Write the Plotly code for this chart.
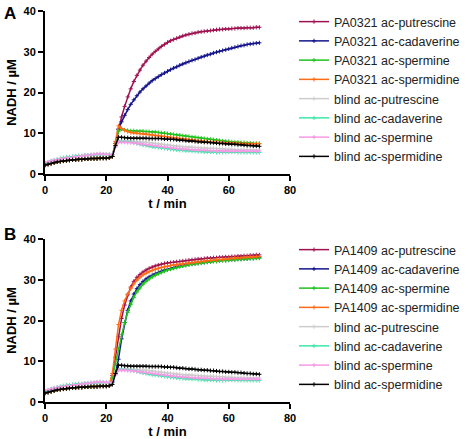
import plotly.graph_objects as go
from plotly.subplots import make_subplots

# time points (min)
t = list(range(0, 71))

# ---- baseline segments, t = 0..21 ----
base_low = [2.2, 2.4, 2.6, 2.8, 3.0, 3.1, 3.2, 3.3, 3.4, 3.5, 3.5, 3.6, 3.6, 3.7, 3.7, 3.8, 3.8, 3.8, 3.9, 3.9, 3.9, 4.0]
base_cyan = [2.6, 2.9, 3.2, 3.4, 3.6, 3.8, 4.0, 4.1, 4.2, 4.3, 4.4, 4.5, 4.5, 4.6, 4.6, 4.7, 4.7, 4.8, 4.8, 4.8, 4.8, 4.8]
base_pink = [2.8, 3.0, 3.2, 3.4, 3.5, 3.7, 3.8, 3.9, 4.0, 4.1, 4.2, 4.3, 4.4, 4.5, 4.6, 4.7, 4.8, 4.9, 5.0, 4.9, 4.8, 4.8]
base_gray = [2.5, 2.8, 3.1, 3.3, 3.5, 3.7, 3.9, 4.0, 4.1, 4.2, 4.3, 4.4, 4.4, 4.5, 4.5, 4.6, 4.6, 4.7, 4.7, 4.7, 4.7, 4.7]

# ---- after substrate addition, t = 22..70 ----
# Panel A: PA0321
a_put = [4.3, 7.5, 11.0, 14.0, 16.6, 18.9, 20.9, 22.7, 24.2, 25.5, 26.7, 27.7, 28.6, 29.4, 30.1, 30.7, 31.3, 31.8, 32.3, 32.7, 33.0, 33.3, 33.6, 33.9, 34.1, 34.3, 34.5, 34.6, 34.8, 34.9, 35.0, 35.1, 35.2, 35.3, 35.4, 35.5, 35.5, 35.6, 35.6, 35.7, 35.7, 35.8, 35.8, 35.8, 35.9, 35.9, 35.9, 36.0, 36.0]
a_cad = [4.3, 7.5, 11.0, 12.8, 14.4, 15.8, 17.1, 18.2, 19.2, 20.1, 20.9, 21.6, 22.3, 22.9, 23.4, 23.9, 24.4, 24.8, 25.2, 25.6, 26.0, 26.3, 26.7, 27.0, 27.3, 27.6, 27.9, 28.1, 28.4, 28.7, 28.9, 29.2, 29.4, 29.7, 29.9, 30.1, 30.3, 30.5, 30.7, 30.9, 31.1, 31.3, 31.5, 31.6, 31.8, 31.9, 32.0, 32.1, 32.2]
a_spm = [4.3, 7.5, 10.5, 11.0, 10.8, 10.7, 10.6, 10.6, 10.5, 10.5, 10.5, 10.4, 10.4, 10.3, 10.3, 10.2, 10.1, 10.0, 9.9, 9.8, 9.7, 9.6, 9.5, 9.4, 9.3, 9.2, 9.1, 9.0, 8.9, 8.8, 8.7, 8.6, 8.5, 8.4, 8.3, 8.2, 8.1, 8.0, 8.0, 7.9, 7.8, 7.8, 7.7, 7.7, 7.6, 7.6, 7.5, 7.5, 7.5]
a_spd = [4.3, 8.0, 11.8, 11.2, 10.7, 10.4, 10.2, 10.1, 10.0, 9.9, 9.9, 9.8, 9.7, 9.6, 9.5, 9.4, 9.3, 9.2, 9.1, 9.0, 8.9, 8.8, 8.7, 8.6, 8.5, 8.4, 8.3, 8.2, 8.1, 8.1, 8.0, 7.9, 7.9, 7.8, 7.8, 7.7, 7.7, 7.6, 7.6, 7.6, 7.5, 7.5, 7.5, 7.4, 7.4, 7.4, 7.4, 7.4, 7.4]

# Panel B: PA1409
b_put = [6.5, 11.0, 16.0, 20.5, 23.8, 26.3, 28.2, 29.6, 30.6, 31.3, 31.9, 32.4, 32.8, 33.1, 33.4, 33.6, 33.8, 34.0, 34.1, 34.2, 34.3, 34.4, 34.5, 34.6, 34.7, 34.8, 34.9, 35.0, 35.1, 35.1, 35.2, 35.3, 35.3, 35.4, 35.4, 35.5, 35.5, 35.6, 35.6, 35.7, 35.7, 35.8, 35.8, 35.9, 35.9, 36.0, 36.0, 36.1, 36.1]
b_cad = [5.0, 7.0, 10.5, 15.5, 19.5, 22.5, 24.8, 26.5, 27.8, 28.8, 29.6, 30.2, 30.7, 31.1, 31.5, 31.8, 32.1, 32.4, 32.6, 32.8, 33.0, 33.2, 33.4, 33.5, 33.7, 33.8, 33.9, 34.0, 34.1, 34.2, 34.3, 34.4, 34.5, 34.6, 34.6, 34.7, 34.8, 34.8, 34.9, 35.0, 35.0, 35.1, 35.1, 35.2, 35.2, 35.3, 35.3, 35.4, 35.4]
b_spm = [6.0, 9.5, 13.0, 16.5, 19.5, 22.0, 24.0, 25.7, 27.0, 28.0, 28.9, 29.6, 30.2, 30.7, 31.1, 31.5, 31.8, 32.1, 32.4, 32.6, 32.8, 33.0, 33.2, 33.4, 33.5, 33.7, 33.8, 33.9, 34.0, 34.1, 34.2, 34.3, 34.4, 34.5, 34.5, 34.6, 34.7, 34.7, 34.8, 34.9, 34.9, 35.0, 35.0, 35.1, 35.1, 35.2, 35.2, 35.3, 35.3]
b_spd = [7.0, 13.0, 19.0, 22.5, 24.8, 26.5, 27.9, 29.0, 29.9, 30.6, 31.2, 31.6, 32.0, 32.3, 32.6, 32.8, 33.0, 33.2, 33.3, 33.5, 33.6, 33.7, 33.8, 33.9, 34.0, 34.1, 34.2, 34.3, 34.4, 34.5, 34.6, 34.7, 34.8, 34.8, 34.9, 35.0, 35.0, 35.1, 35.2, 35.2, 35.3, 35.4, 35.4, 35.5, 35.5, 35.6, 35.6, 35.7, 35.7]

# blinds (same controls in both panels)
bl_put = [4.7, 6.8, 8.2, 8.2, 8.1, 8.1, 8.0, 8.0, 7.9, 7.9, 7.8, 7.8, 7.7, 7.6, 7.5, 7.4, 7.3, 7.2, 7.1, 7.0, 6.9, 6.9, 6.8, 6.7, 6.7, 6.6, 6.6, 6.5, 6.5, 6.4, 6.4, 6.3, 6.3, 6.3, 6.2, 6.2, 6.2, 6.1, 6.1, 6.1, 6.0, 6.0, 6.0, 6.0, 5.9, 5.9, 5.9, 5.9, 5.9]
bl_cad = [4.8, 6.8, 8.0, 8.0, 8.0, 7.9, 7.8, 7.7, 7.5, 7.3, 7.1, 7.0, 6.8, 6.7, 6.6, 6.5, 6.4, 6.3, 6.2, 6.1, 6.0, 5.9, 5.8, 5.8, 5.7, 5.7, 5.6, 5.6, 5.5, 5.5, 5.4, 5.4, 5.4, 5.4, 5.3, 5.3, 5.3, 5.3, 5.4, 5.4, 5.4, 5.3, 5.3, 5.3, 5.3, 5.3, 5.3, 5.3, 5.3]
bl_spm = [4.8, 6.6, 7.8, 7.8, 7.8, 7.7, 7.7, 7.6, 7.5, 7.4, 7.3, 7.2, 7.1, 7.0, 6.9, 6.8, 6.7, 6.6, 6.5, 6.4, 6.3, 6.3, 6.2, 6.1, 6.1, 6.0, 6.0, 5.9, 5.9, 5.8, 5.8, 5.8, 5.7, 5.7, 5.7, 5.7, 5.6, 5.6, 5.6, 5.6, 5.6, 5.6, 5.6, 5.6, 5.6, 5.6, 5.6, 5.6, 5.6]
bl_spd = [4.3, 7.0, 9.0, 9.0, 8.9, 8.9, 8.8, 8.8, 8.8, 8.8, 8.8, 8.8, 8.7, 8.7, 8.7, 8.7, 8.7, 8.6, 8.6, 8.5, 8.5, 8.4, 8.3, 8.3, 8.2, 8.1, 8.1, 8.0, 7.9, 7.9, 7.8, 7.8, 7.7, 7.7, 7.6, 7.5, 7.5, 7.4, 7.4, 7.3, 7.3, 7.2, 7.2, 7.1, 7.0, 7.0, 6.9, 6.9, 6.8]

names_a = ["PA0321 ac-putrescine", "PA0321 ac-cadaverine", "PA0321 ac-spermine", "PA0321 ac-spermidine"]
names_b = ["PA1409 ac-putrescine", "PA1409 ac-cadaverine", "PA1409 ac-spermine", "PA1409 ac-spermidine"]
names_blind = ["blind ac-putrescine", "blind ac-cadaverine", "blind ac-spermine", "blind ac-spermidine"]

enz_colors = ["#9E1050", "#14148C", "#1EC31E", "#FF6A14"]
blind_colors = ["#CDCDCD", "#3CE8A8", "#F59AE6", "#000000"]

series_a = [base_low + a_put, base_low + a_cad, base_low + a_spm, base_low + a_spd]
series_b = [base_low + b_put, base_low + b_cad, base_low + b_spm, base_low + b_spd]
series_blind = [base_gray + bl_put, base_cyan + bl_cad, base_pink + bl_spm, base_low + bl_spd]

FONT = "Arial, Liberation Sans, sans-serif"

fig = make_subplots(rows=2, cols=1)


def add(y, name, color, row, legend):
    fig.add_trace(go.Scatter(
        x=t, y=y, name=name, mode="lines+markers",
        line=dict(color=color, width=1.5),
        marker=dict(symbol="cross-thin", size=3, color=color, line=dict(color=color, width=1)),
        legend=legend,
    ), row=row, col=1)


for row, names, series, leg in [(1, names_a, series_a, "legend"), (2, names_b, series_b, "legend2")]:
    for n, y, c in zip(names, series, enz_colors):
        add(y, n, c, row, leg)
    for n, y, c in zip(names_blind, series_blind, blind_colors):
        add(y, n, c, row, leg)

W, H = 472, 439
xd = [45 / W, 290 / W]
axis_common = dict(
    showgrid=False, zeroline=False, showline=True, linecolor="black", linewidth=2,
    ticks="outside", ticklen=5, tickwidth=2, tickcolor="black",
    tickfont=dict(family=FONT, size=11, color="black", weight="bold"),
    mirror=False, automargin=False,
)
title_font = dict(family=FONT, size=13, weight="bold", color="black")

fig.update_layout(
    width=W, height=H, margin=dict(l=0, r=0, t=0, b=0, autoexpand=False),
    paper_bgcolor="white", plot_bgcolor="white",
    font=dict(family=FONT, color="black"),
    xaxis=dict(domain=xd, range=[0, 80], tickvals=[0, 20, 40, 60, 80], anchor="y",
               title=dict(text="t / min", font=title_font, standoff=2), **axis_common),
    yaxis=dict(domain=[(H - 174) / H, (H - 11) / H], range=[0, 40], tickvals=[0, 10, 20, 30, 40], anchor="x",
               title=dict(text="NADH / µM", font=title_font, standoff=4), **axis_common),
    xaxis2=dict(domain=xd, range=[0, 80], tickvals=[0, 20, 40, 60, 80], anchor="y2",
                title=dict(text="t / min", font=title_font, standoff=2), **axis_common),
    yaxis2=dict(domain=[(H - 402) / H, (H - 239) / H], range=[0, 40], tickvals=[0, 10, 20, 30, 40], anchor="x2",
                title=dict(text="NADH / µM", font=title_font, standoff=4), **axis_common),
    legend=dict(x=294 / W, y=1 - 7 / H, xanchor="left", yanchor="top",
                font=dict(family=FONT, size=12.5, color="#222"), itemwidth=30,
                bgcolor="rgba(0,0,0,0)", tracegroupgap=0),
    legend2=dict(x=294 / W, y=1 - 235 / H, xanchor="left", yanchor="top",
                 font=dict(family=FONT, size=12.5, color="#222"), itemwidth=30,
                 bgcolor="rgba(0,0,0,0)", tracegroupgap=0),
    annotations=[
        dict(text="<b>A</b>", x=2 / W, y=1 - 2 / H, xref="paper", yref="paper", xanchor="left", yanchor="top",
             showarrow=False, font=dict(family=FONT, size=17, color="black")),
        dict(text="<b>B</b>", x=2 / W, y=1 - 223 / H, xref="paper", yref="paper", xanchor="left", yanchor="top",
             showarrow=False, font=dict(family=FONT, size=17, color="black")),
    ],
)

fig.write_html("out.html", config={"displayModeBar": False},
               post_script="document.body.style.margin='0px';")
